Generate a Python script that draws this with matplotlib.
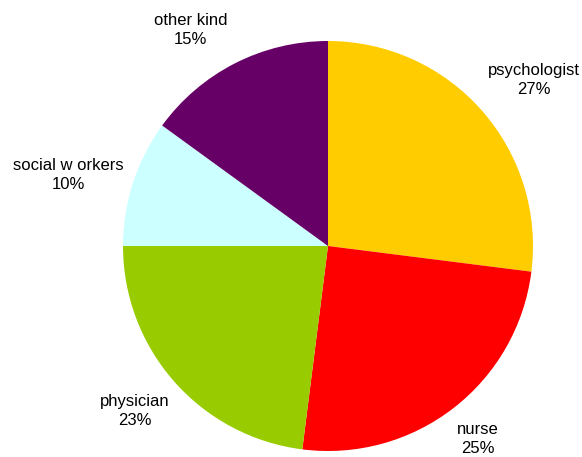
import numpy as np
import matplotlib.pyplot as plt

# datos del gráfico
categorias = ['psychologist', 'nurse', 'physician', 'social w orkers', 'other kind']
porcentajes = [27, 25, 23, 10, 15]
colores = ['#FFCC00', '#FF0000', '#99CC00', '#CCFFFF', '#660066']


def main():
    plt.rcParams['font.family'] = ['Liberation Sans', 'DejaVu Sans']

    fig = plt.figure(figsize=(5.82, 4.57), dpi=100)
    ax = fig.add_axes([0, 0, 1, 1])

    centro = (328, 211)
    radio = 205
    wedges, _ = ax.pie(porcentajes, colors=colores, startangle=90, counterclock=False,
                       center=centro, radius=radio, wedgeprops={'linewidth': 0})

    # posición de etiquetas (distancia relativa y ajuste de ángulo, como en Excel)
    distancias = [1.29, 1.19, 1.24, 1.315, 1.25]
    ajustes = [-2.5, 0, -1, 2.7, 5.5]
    for w, c, p, d, a in zip(wedges, categorias, porcentajes, distancias, ajustes):
        ang = np.deg2rad((w.theta1 + w.theta2) / 2 + a)
        x = centro[0] + d * radio * np.cos(ang)
        y = centro[1] + d * radio * np.sin(ang)
        ax.text(x, y, f'{c}\n{p}%', ha='center', va='center', fontsize=12,
                linespacing=1.3, color='black')

    ax.set_xlim(0, 582)
    ax.set_ylim(0, 457)
    ax.set_aspect('equal')
    ax.axis('off')

    fig.savefig('out.png', dpi=100, facecolor='white')
    plt.close(fig)


if __name__ == '__main__':
    main()
